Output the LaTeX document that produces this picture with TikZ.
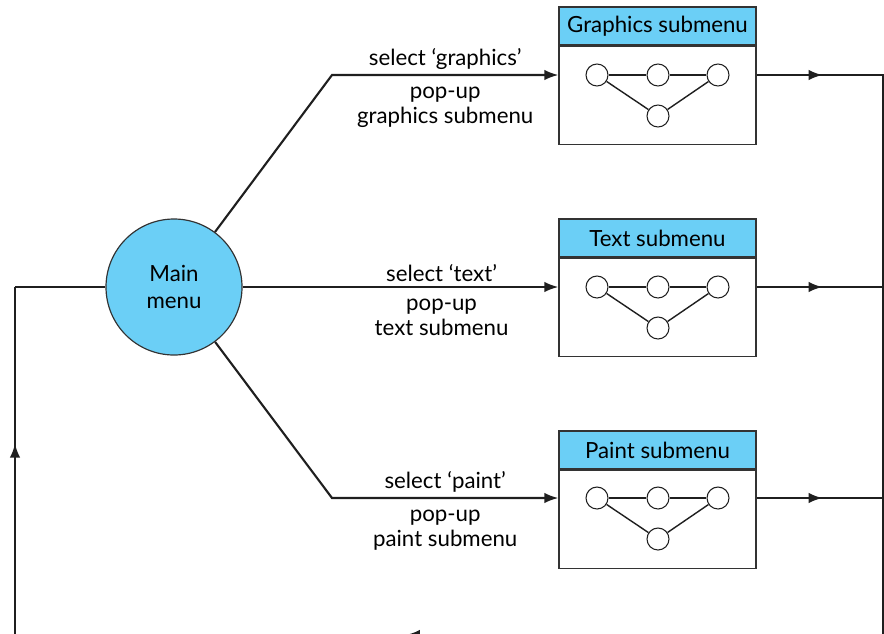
\documentclass[tikz,border=0pt]{standalone}
\usepackage{fontspec}
\setmainfont{Lato}
\usetikzlibrary{arrows.meta,decorations.markings,positioning}

\definecolor{menublue}{HTML}{6BCFF6}

\tikzset{
  flow/.style={line width=1.8pt, draw=black!88},
  tip/.style={-{Latex[length=12pt,width=9pt]}},
  midtip/.style={postaction={decorate},
    decoration={markings, mark=at position #1 with {\arrow{Latex[length=12pt,width=9pt]}}}},
  mainmenu/.style={circle, draw=black!80, line width=1pt, fill=menublue,
    minimum size=40.8mm, inner sep=0pt, align=center, font=\fontsize{19}{23}\selectfont},
  header/.style={rectangle, draw=black!80, line width=1pt, fill=menublue,
    minimum width=59.1mm, minimum height=11.4mm, inner sep=0pt, font=\fontsize{19}{23}\selectfont},
  body/.style={rectangle, draw=black!80, line width=1pt, fill=white,
    minimum width=59.1mm, minimum height=29.4mm, inner sep=0pt},
  dot/.style={circle, draw=black!88, line width=0.9pt, fill=white,
    minimum size=6.6mm, inner sep=0pt},
  edge/.style={line width=1.2pt, draw=black!88},
  txt/.style={align=center, font=\fontsize{19}{22}\selectfont, inner sep=3pt},
  over/.style={txt, above=1pt},
  under/.style={txt, below=6pt}
}

\begin{document}
\begin{tikzpicture}[x=0.3mm,y=-0.3mm]
\useasboundingbox (0,0) rectangle (884,633);
\clip (0,0) rectangle (884,633);

% main menu
\node[mainmenu] (main) at (174,287) {Main\\menu};

% the three submenus
\node[header] (ghead) at (657.5,26) {Graphics submenu};
\node[body, below=0pt of ghead] (gbody) {};
\node[header] (thead) at (657.5,238) {Text submenu};
\node[body, below=0pt of thead] (tbody) {};
\node[header] (phead) at (657.5,450) {Paint submenu};
\node[body, below=0pt of phead] (pbody) {};

% little graphs inside the boxes
\node[dot] (g1) at (597,75) {};
\node[dot] (g2) at (658,75) {};
\node[dot] (g3) at (718,75) {};
\node[dot] (g4) at (658,116) {};
\draw[edge] (g1) -- (g2) -- (g3);
\draw[edge] (g1) -- (g4) -- (g3);

\node[dot] (t1) at (597,287) {};
\node[dot] (t2) at (658,287) {};
\node[dot] (t3) at (718,287) {};
\node[dot] (t4) at (658,328) {};
\draw[edge] (t1) -- (t2) -- (t3);
\draw[edge] (t1) -- (t4) -- (t3);

\node[dot] (p1) at (597,498) {};
\node[dot] (p2) at (658,498) {};
\node[dot] (p3) at (718,498) {};
\node[dot] (p4) at (658,539) {};
\draw[edge] (p1) -- (p2) -- (p3);
\draw[edge] (p1) -- (p4) -- (p3);

% routes out of the main menu
\coordinate (gbend) at (332,75);
\coordinate (pbend) at (332,498);
\draw[flow,tip] (main) -- (gbend) -- node[over] {select ‘graphics’}
  node[under] {pop-up\\graphics submenu} (gbody.west |- g1);
\draw[flow,tip] (main) -- node[over,pos=0.63] {select ‘text’}
  node[under,pos=0.63] {pop-up\\text submenu} (tbody.west |- t1);
\draw[flow,tip] (main) -- (pbend) -- node[over] {select ‘paint’}
  node[under] {pop-up\\paint submenu} (pbody.west |- p1);

% back to the main menu
\coordinate (gout) at (883.5,75);
\coordinate (tout) at (883.5,287);
\coordinate (pout) at (883.5,498);
\coordinate (rcorner) at (883.5,635);
\coordinate (lcorner) at (15,635);
\coordinate (ltop) at (15,287);
\draw[flow,midtip=0.52] (gbody.east |- g3) -- (gout);
\draw[flow,midtip=0.52] (tbody.east |- t3) -- (tout);
\draw[flow,midtip=0.52] (pbody.east |- p3) -- (pout);
\draw[flow] (gout) -- (rcorner);
\draw[flow,midtip=0.55] (rcorner) -- (lcorner);
\draw[flow,midtip=0.55] (lcorner) -- (ltop);
\draw[flow] (ltop) -- (main);
\end{tikzpicture}
\end{document}
